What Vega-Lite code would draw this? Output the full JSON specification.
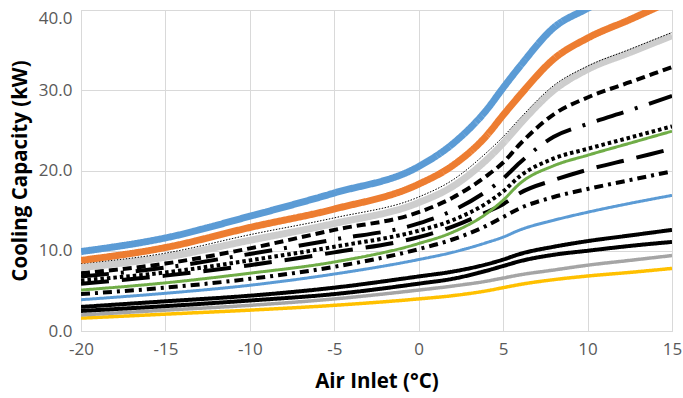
{
  "$schema": "https://vega.github.io/schema/vega-lite/v6.json",
  "width": 591,
  "height": 321,
  "autosize": {"type": "none"},
  "padding": {"left": 81, "top": 10, "right": 11, "bottom": 67},
  "background": "white",
  "config": {
    "view": {"stroke": "#D9D9D9", "strokeWidth": 1},
    "font": "Open Sans"
  },
  "data": {
    "values": [
      {"x": -20, "01 yellow": 1.6, "02 gray thin": 2.0, "03 black2": 2.5, "04 black1": 3.0, "05 blue thin": 3.9, "06 dash dot": 4.6, "07 long dash": 5.9, "08 green": 5.1, "09 round dot": 6.3, "10 long dash dot": 6.8, "11 short dash": 7.2, "12 gray thick": 7.9, "13 dotted": 8.4, "14 orange": 8.8, "15 blue thick": 9.9},
      {"x": -15, "01 yellow": 2.1, "02 gray thin": 2.6, "03 black2": 3.1, "04 black1": 3.7, "05 blue thin": 4.7, "06 dash dot": 5.4, "07 long dash": 6.9, "08 green": 6.0, "09 round dot": 7.3, "10 long dash dot": 7.9, "11 short dash": 8.4, "12 gray thick": 9.2, "13 dotted": 9.7, "14 orange": 10.4, "15 blue thick": 11.6},
      {"x": -10, "01 yellow": 2.6, "02 gray thin": 3.2, "03 black2": 3.8, "04 black1": 4.4, "05 blue thin": 5.7, "06 dash dot": 6.5, "07 long dash": 8.2, "08 green": 7.2, "09 round dot": 8.8, "10 long dash dot": 9.6, "11 short dash": 10.3, "12 gray thick": 11.3, "13 dotted": 12.0, "14 orange": 12.9, "15 blue thick": 14.3},
      {"x": -5, "01 yellow": 3.2, "02 gray thin": 4.0, "03 black2": 4.6, "04 black1": 5.4, "05 blue thin": 7.1, "06 dash dot": 8.0, "07 long dash": 9.8, "08 green": 8.6, "09 round dot": 10.5, "10 long dash dot": 11.4, "11 short dash": 12.6, "12 gray thick": 13.4, "13 dotted": 14.1, "14 orange": 15.2, "15 blue thick": 17.2},
      {"x": 0, "01 yellow": 4.0, "02 gray thin": 5.1, "03 black2": 5.9, "04 black1": 6.8, "05 blue thin": 8.9, "06 dash dot": 10.2, "07 long dash": 11.7, "08 green": 10.9, "09 round dot": 12.5, "10 long dash dot": 13.4, "11 short dash": 14.8, "12 gray thick": 16.0, "13 dotted": 16.7, "14 orange": 18.3, "15 blue thick": 20.5},
      {"x": 2, "01 yellow": 4.4, "02 gray thin": 5.6, "03 black2": 6.5, "04 black1": 7.4, "05 blue thin": 9.8, "06 dash dot": 11.4, "07 long dash": 13.0, "08 green": 12.3, "09 round dot": 13.8, "10 long dash dot": 15.0, "11 short dash": 16.6, "12 gray thick": 18.0, "13 dotted": 18.8, "14 orange": 20.6, "15 blue thick": 23.3},
      {"x": 4, "01 yellow": 5.0, "02 gray thin": 6.2, "03 black2": 7.5, "04 black1": 8.3, "05 blue thin": 11.0, "06 dash dot": 13.1, "07 long dash": 14.8, "08 green": 14.6, "09 round dot": 15.9, "10 long dash dot": 17.4, "11 short dash": 19.3, "12 gray thick": 21.3, "13 dotted": 22.2, "14 orange": 24.3, "15 blue thick": 27.5},
      {"x": 5, "01 yellow": 5.4, "02 gray thin": 6.6, "03 black2": 8.1, "04 black1": 8.9, "05 blue thin": 11.7, "06 dash dot": 14.2, "07 long dash": 15.8, "08 green": 16.3, "09 round dot": 17.4, "10 long dash dot": 19.0, "11 short dash": 21.0, "12 gray thick": 23.4, "13 dotted": 24.2, "14 orange": 26.9, "15 blue thick": 30.3},
      {"x": 6, "01 yellow": 5.8, "02 gray thin": 7.0, "03 black2": 8.7, "04 black1": 9.6, "05 blue thin": 12.6, "06 dash dot": 15.3, "07 long dash": 17.2, "08 green": 18.4, "09 round dot": 19.3, "10 long dash dot": 21.0, "11 short dash": 23.3, "12 gray thick": 25.8, "13 dotted": 26.5, "14 orange": 29.4, "15 blue thick": 33.0},
      {"x": 8, "01 yellow": 6.4, "02 gray thin": 7.6, "03 black2": 9.5, "04 black1": 10.5, "05 blue thin": 13.8, "06 dash dot": 16.7, "07 long dash": 18.8, "08 green": 20.6, "09 round dot": 21.5, "10 long dash dot": 24.2, "11 short dash": 27.0, "12 gray thick": 30.0, "13 dotted": 30.6, "14 orange": 33.9, "15 blue thick": 37.8},
      {"x": 10, "01 yellow": 6.85, "02 gray thin": 8.2, "03 black2": 10.0, "04 black1": 11.2, "05 blue thin": 14.8, "06 dash dot": 17.7, "07 long dash": 20.1, "08 green": 21.9, "09 round dot": 22.7, "10 long dash dot": 25.8, "11 short dash": 29.1, "12 gray thick": 32.6, "13 dotted": 33.0, "14 orange": 36.5, "15 blue thick": 40.2},
      {"x": 12.5, "01 yellow": 7.3, "02 gray thin": 8.8, "03 black2": 10.6, "04 black1": 11.9, "05 blue thin": 15.9, "06 dash dot": 18.8, "07 long dash": 21.4, "08 green": 23.4, "09 round dot": 24.1, "10 long dash dot": 27.5, "11 short dash": 31.0, "12 gray thick": 34.7, "13 dotted": 35.1, "14 orange": 38.8, "15 blue thick": 43.0},
      {"x": 15, "01 yellow": 7.8, "02 gray thin": 9.4, "03 black2": 11.1, "04 black1": 12.6, "05 blue thin": 16.9, "06 dash dot": 19.9, "07 long dash": 22.7, "08 green": 24.9, "09 round dot": 25.5, "10 long dash dot": 29.3, "11 short dash": 32.9, "12 gray thick": 36.8, "13 dotted": 37.2, "14 orange": 41.2, "15 blue thick": 45.5}
    ]
  },
  "transform": [
    {"fold": ["01 yellow", "02 gray thin", "03 black2", "04 black1", "05 blue thin", "06 dash dot", "07 long dash", "08 green", "09 round dot", "10 long dash dot", "11 short dash", "12 gray thick", "13 dotted", "14 orange", "15 blue thick"], "as": ["s", "y"]}
  ],
  "mark": {"type": "line", "interpolate": "monotone", "clip": true},
  "encoding": {
    "x": {
      "field": "x", "type": "quantitative",
      "scale": {"domain": [-20, 15], "nice": false},
      "axis": {
        "values": [-20, -15, -10, -5, 0, 5, 10, 15], "labelExpr": "toString(datum.value)", "labelFlush": false,
        "title": "Air Inlet (°C)", "titleFont": "Open Sans", "titleFontSize": 20.5, "titleFontWeight": "bold", "titleColor": "#000000",
        "titlePadding": 14,
        "labelFont": "Open Sans", "labelFontSize": 17, "labelColor": "#595959", "labelPadding": 10,
        "ticks": false, "domainColor": "#D9D9D9", "gridColor": "#D9D9D9"
      }
    },
    "y": {
      "field": "y", "type": "quantitative",
      "scale": {"domain": [0, 40], "nice": false},
      "axis": {
        "values": [0, 10, 20, 30, 40], "format": ".1f", "labelFlush": false,
        "title": "Cooling Capacity (kW)", "titleFont": "Open Sans", "titleFontSize": 20.5, "titleFontWeight": "bold", "titleColor": "#000000",
        "titlePadding": 8,
        "labelFont": "Open Sans", "labelFontSize": 17, "labelColor": "#595959", "labelPadding": 9,
        "labelBaseline": {"condition": {"test": "datum.value == 40", "value": "top"}, "value": "middle"},
        "ticks": false, "domainColor": "#D9D9D9", "gridColor": "#D9D9D9"
      }
    },
    "detail": {"field": "s"},
    "color": {
      "field": "s", "type": "nominal", "legend": null,
      "scale": {
        "domain": ["01 yellow", "02 gray thin", "03 black2", "04 black1", "05 blue thin", "06 dash dot", "07 long dash", "08 green", "09 round dot", "10 long dash dot", "11 short dash", "12 gray thick", "13 dotted", "14 orange", "15 blue thick"],
        "range": ["#FFC000", "#A5A5A5", "#000000", "#000000", "#5B9BD5", "#000000", "#000000", "#70AD47", "#000000", "#000000", "#000000", "#CDCDCD", "#000000", "#ED7D31", "#5B9BD5"]
      }
    },
    "strokeWidth": {
      "field": "s", "type": "ordinal", "legend": null,
      "scale": {
        "type": "ordinal",
        "domain": ["01 yellow", "02 gray thin", "03 black2", "04 black1", "05 blue thin", "06 dash dot", "07 long dash", "08 green", "09 round dot", "10 long dash dot", "11 short dash", "12 gray thick", "13 dotted", "14 orange", "15 blue thick"],
        "range": [3.5, 3.5, 4, 4, 3, 4, 4, 3, 4, 4, 4, 7, 1, 7, 7]
      }
    },
    "strokeDash": {
      "field": "s", "type": "nominal", "legend": null,
      "scale": {
        "domain": ["01 yellow", "02 gray thin", "03 black2", "04 black1", "05 blue thin", "06 dash dot", "07 long dash", "08 green", "09 round dot", "10 long dash dot", "11 short dash", "12 gray thick", "13 dotted", "14 orange", "15 blue thick"],
        "range": [[1, 0], [1, 0], [1, 0], [1, 0], [1, 0], [9, 5, 3, 5], [28, 13], [1, 0], [3.5, 3], [28, 12, 3, 12], [9, 5], [1, 0], [1.5, 1.5], [1, 0], [1, 0]]
      }
    }
  }
}
